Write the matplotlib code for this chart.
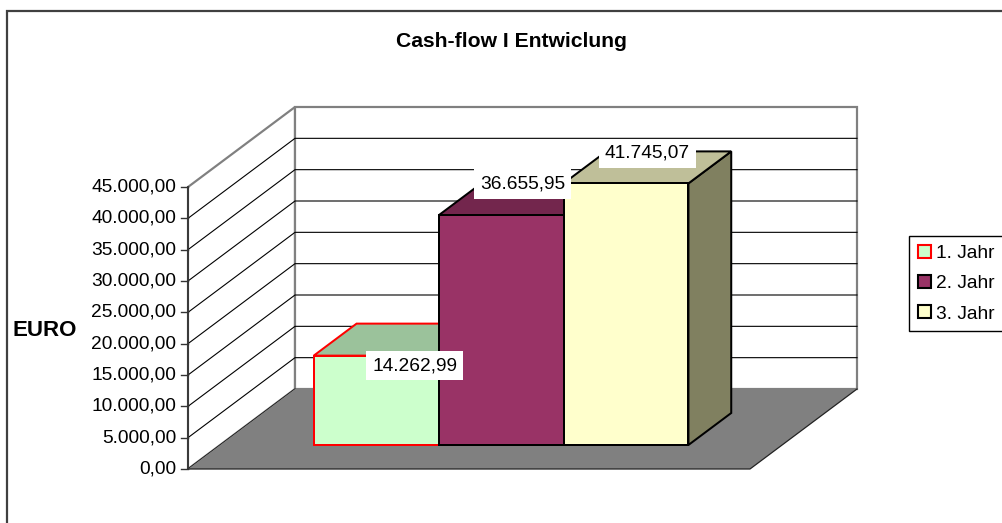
import matplotlib
matplotlib.use("Agg")
import matplotlib.pyplot as plt
from matplotlib.patches import Polygon, Rectangle, Patch

# ---------------- data ----------------
title = "Cash-flow I Entwiclung"
y_label = "EURO"
series_names = ["1. Jahr", "2. Jahr", "3. Jahr"]
values = [14262.99, 36655.95, 41745.07]
tick_values = [0, 5000, 10000, 15000, 20000, 25000, 30000, 35000, 40000, 45000]
y_max = 45000

# ---------------- style ----------------
front_colors = ["#CCFFCC", "#993366", "#FFFFCC"]
top_colors = ["#9BC29B", "#73264D", "#BFBF99"]
side_colors = ["#7A9A7A", "#5C1F3D", "#808060"]
edge_colors = ["#FF0000", "#000000", "#000000"]
label_offsets_px = [(17, -26), (0, 15), (0, 14)]

W, H, DPI = 1002, 523, 100
PT = 72.0 / DPI  # points per pixel

# layout in pixels
ox, oy = 188, 469          # front-left-bottom corner of the floor
floor_w_px = 562           # front floor width
span_px = 282              # pixel height of y_max
depth_px = (107, 80)       # oblique depth vector
gap_ratio = 1.5            # Excel gap width (150%)
bar_d0, bar_d1 = 0.30, 0.70

k = y_max / span_px        # value units per pixel
DX = depth_px[0] / floor_w_px
DY = depth_px[1] * k

fig = plt.figure(figsize=(W / DPI, H / DPI), dpi=DPI)
ax = fig.add_axes([0, 0, 1, 1])
ax.set_xlim(-ox / floor_w_px, (W - ox) / floor_w_px)
ax.set_ylim((oy - H) * k, oy * k)
ax.axis("off")


def proj(x, v, d):
    return (x + d * DX, v + d * DY)


def fmt_de(v):
    s = f"{v:,.2f}"
    return s.replace(",", "X").replace(".", ",").replace("X", ".")


font = "Liberation Sans"
fs = 13.8

# walls
left_wall = [proj(0, 0, 0), proj(0, y_max, 0), proj(0, y_max, 1), proj(0, 0, 1)]
back_wall = [proj(0, 0, 1), proj(0, y_max, 1), proj(1, y_max, 1), proj(1, 0, 1)]
ax.add_patch(Polygon(left_wall, closed=True, fc="white", ec="#808080", lw=2.2 * PT, zorder=1))
ax.add_patch(Polygon(back_wall, closed=True, fc="white", ec="#808080", lw=2.2 * PT, zorder=1))

# gridlines
for t in tick_values:
    if t in (0, y_max):
        continue
    p0, p1, p2 = proj(0, t, 0), proj(0, t, 1), proj(1, t, 1)
    ax.plot([p0[0], p1[0], p2[0]], [p0[1], p1[1], p2[1]], color="black", lw=0.8, zorder=1.5)
p0, p1 = proj(0, 0, 0), proj(0, 0, 1)
ax.plot([p0[0], p1[0]], [p0[1], p1[1]], color="black", lw=0.8, zorder=1.5)

# floor
floor = [proj(0, 0, 0), proj(1, 0, 0), proj(1, 0, 1), proj(0, 0, 1)]
ax.add_patch(Polygon(floor, closed=True, fc="#808080", ec="none", zorder=2))
f0, f1, f2 = proj(0, 0, 0), proj(1, 0, 0), proj(1, 0, 1)
ax.plot([f0[0], f1[0], f2[0]], [f0[1], f1[1], f2[1]], color="#222222", lw=0.9, zorder=2.1)

# y axis line and ticks
ax.plot([0, 0], [0, y_max], color="#333333", lw=1.3, zorder=2.2)
tick_len = 7 / floor_w_px
for t in tick_values:
    ax.plot([-tick_len, 0], [t, t], color="#333333", lw=1.0, zorder=2.2)
    ax.annotate(fmt_de(t), xy=(0, t), xytext=(-12 * PT, 0), textcoords="offset points",
                ha="right", va="center", fontsize=fs, family=font, color="black")

# bars
n = len(values)
bw = 1.0 / (n + gap_ratio)
gap = gap_ratio * bw / 2
for i, v in enumerate(values):
    l = gap + i * bw
    r = l + bw
    ec = edge_colors[i]
    lw = 2 * PT
    z = 3 + i
    side = [proj(r, 0, bar_d0), proj(r, 0, bar_d1), proj(r, v, bar_d1), proj(r, v, bar_d0)]
    top = [proj(l, v, bar_d0), proj(r, v, bar_d0), proj(r, v, bar_d1), proj(l, v, bar_d1)]
    front = [proj(l, 0, bar_d0), proj(r, 0, bar_d0), proj(r, v, bar_d0), proj(l, v, bar_d0)]
    ax.add_patch(Polygon(side, closed=True, fc=side_colors[i], ec=ec, lw=lw, zorder=z, joinstyle="miter"))
    ax.add_patch(Polygon(top, closed=True, fc=top_colors[i], ec=ec, lw=lw, zorder=z, joinstyle="miter"))
    ax.add_patch(Polygon(front, closed=True, fc=front_colors[i], ec=ec, lw=lw, zorder=z + 0.1, joinstyle="miter"))

# data labels
for i, v in enumerate(values):
    l = gap + i * bw
    cx, cy = proj(l + bw / 2, v, (bar_d0 + bar_d1) / 2)
    dx, dy = label_offsets_px[i]
    ax.annotate(fmt_de(v), xy=(cx, cy), xytext=(dx * PT, dy * PT), textcoords="offset points",
                ha="center", va="center", fontsize=fs, family=font, color="black", zorder=20,
                bbox=dict(boxstyle="square,pad=0.33", fc="white", ec="none"))

# title and axis label
fig.text(511 / W, 1 - 47 / H, title, ha="center", va="baseline", fontsize=15.2,
         fontweight="bold", family=font)
fig.text(12 / W, 1 - 330 / H, y_label, ha="left", va="center", fontsize=16,
         fontweight="bold", family=font)

# legend
handles = [Patch(facecolor=front_colors[i], edgecolor=edge_colors[i], linewidth=1.5)
           for i in range(n)]
leg = fig.legend(handles, series_names, loc="upper left",
                 bbox_to_anchor=(909 / W, 1 - 236 / H), borderaxespad=0,
                 prop=dict(family=font, size=fs), frameon=True, fancybox=False,
                 handlelength=0.68, handleheight=0.68, handletextpad=0.3,
                 labelspacing=0.68, borderpad=0.45, framealpha=1)
leg.get_frame().set_edgecolor("black")
leg.get_frame().set_linewidth(1.0)

# outer chart border (partly cut off)
fig.add_artist(Rectangle((7 / W, -0.1), 1.2, 1.1 - 11.5 / H, transform=fig.transFigure,
                         fill=False, ec="#404040", lw=1.6))

fig.savefig("out.png", dpi=DPI)
